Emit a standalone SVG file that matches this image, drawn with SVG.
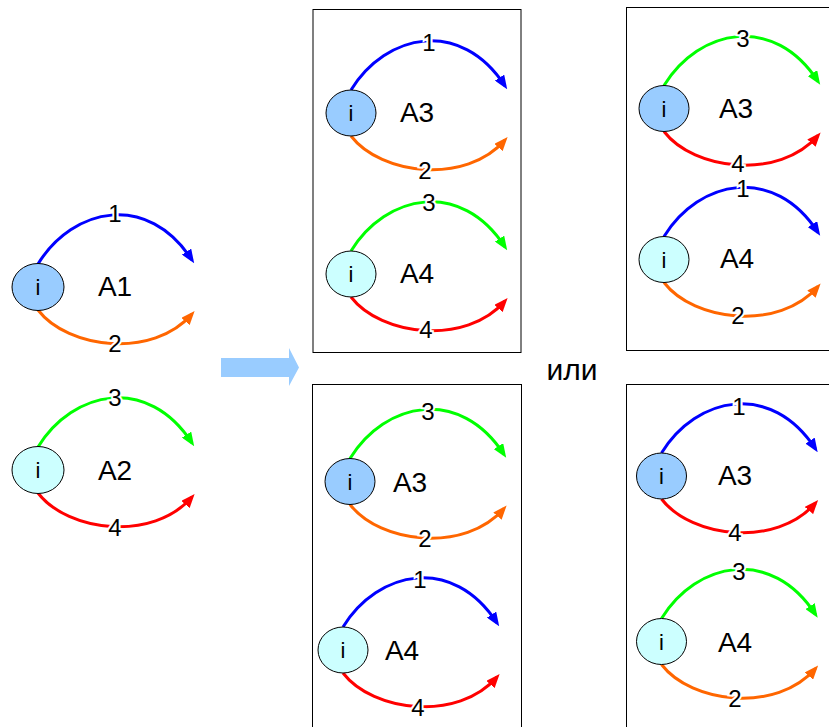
<svg xmlns="http://www.w3.org/2000/svg" width="829" height="727" viewBox="0 0 829 727">
<style>
.c1{fill:#99ccff;stroke:#000;stroke-width:1}
.c2{fill:#ccffff;stroke:#000;stroke-width:1}
.e{fill:none;stroke-width:3}
.b{stroke:#0000ff}.o{stroke:#ff6600}.g{stroke:#00ff00}.r{stroke:#ff0000}
.i{font-family:"Liberation Sans",Arial,sans-serif;font-size:22px;text-anchor:middle;fill:#000}
.n{font-family:"Liberation Sans",Arial,sans-serif;font-size:28px;text-anchor:middle;fill:#000}
.l{font-family:"Liberation Sans",Arial,sans-serif;font-size:24px;text-anchor:middle;fill:#000;stroke:#fff;stroke-width:4;paint-order:stroke}
.box{fill:#fff;stroke:#000;stroke-width:1}
</style>
<defs>
<marker id="mb" viewBox="0 0 14 11" refX="10" refY="5.5" markerWidth="14" markerHeight="11" markerUnits="userSpaceOnUse" orient="auto"><path d="M0,0 L14,5.5 L0,11 z" fill="#0000ff"/></marker>
<marker id="mo" viewBox="0 0 14 11" refX="10" refY="5.5" markerWidth="14" markerHeight="11" markerUnits="userSpaceOnUse" orient="auto"><path d="M0,0 L14,5.5 L0,11 z" fill="#ff6600"/></marker>
<marker id="mg" viewBox="0 0 14 11" refX="10" refY="5.5" markerWidth="14" markerHeight="11" markerUnits="userSpaceOnUse" orient="auto"><path d="M0,0 L14,5.5 L0,11 z" fill="#00ff00"/></marker>
<marker id="mr" viewBox="0 0 14 11" refX="10" refY="5.5" markerWidth="14" markerHeight="11" markerUnits="userSpaceOnUse" orient="auto"><path d="M0,0 L14,5.5 L0,11 z" fill="#ff0000"/></marker>
<path id="top" d="M0,-23 C35,-80 110,-95 154,-27"/>
<path id="bot" d="M0,23 C30,62 115,72 154,27"/>
</defs>
<rect width="829" height="727" fill="#fff"/>

<g id="boxes">
<rect class="box" x="313" y="9.5" width="208" height="343"/>
<rect class="box" x="626.5" y="7.5" width="215" height="343"/>
<rect class="box" x="312.5" y="384.5" width="209" height="360"/>
<rect class="box" x="626.5" y="384.5" width="215" height="360"/>
</g>

<g id="bigArrow"><path d="M221,358 L289,358 L289,348 L299,367.5 L289,386 L289,377 L221,377 z" fill="#99ccff"/></g>
<g id="ili"><text class="n" x="572" y="380" style="font-size:30px">или</text></g>

<g id="connectors">
<g transform="translate(38,287)"><use href="#top" class="e b" marker-end="url(#mb)"/><use href="#bot" class="e o" marker-end="url(#mo)"/><text class="l" x="77" y="-65">1</text><text class="l" x="77" y="65">2</text></g>
<g transform="translate(38,470)"><use href="#top" class="e g" marker-end="url(#mg)"/><use href="#bot" class="e r" marker-end="url(#mr)"/><text class="l" x="77" y="-64">3</text><text class="l" x="77" y="66">4</text></g>
<g transform="translate(351,113)"><use href="#top" class="e b" marker-end="url(#mb)"/><use href="#bot" class="e o" marker-end="url(#mo)"/><text class="l" x="78" y="-62">1</text><text class="l" x="74" y="66">2</text></g>
<g transform="translate(351,274)"><use href="#top" class="e g" marker-end="url(#mg)"/><use href="#bot" class="e r" marker-end="url(#mr)"/><text class="l" x="78" y="-63">3</text><text class="l" x="75" y="64">4</text></g>
<g transform="translate(664,108.5)"><use href="#top" class="e g" marker-end="url(#mg)"/><use href="#bot" class="e r" marker-end="url(#mr)"/><text class="l" x="79" y="-62">3</text><text class="l" x="74" y="63">4</text></g>
<g transform="translate(664,259.5)"><use href="#top" class="e b" marker-end="url(#mb)"/><use href="#bot" class="e o" marker-end="url(#mo)"/><text class="l" x="79" y="-63">1</text><text class="l" x="74" y="64">2</text></g>
<g transform="translate(350,481.5)"><use href="#top" class="e g" marker-end="url(#mg)"/><use href="#bot" class="e o" marker-end="url(#mo)"/><text class="l" x="78" y="-62">3</text><text class="l" x="75" y="65">2</text></g>
<g transform="translate(343,650)"><use href="#top" class="e b" marker-end="url(#mb)"/><use href="#bot" class="e r" marker-end="url(#mr)"/><text class="l" x="77" y="-62">1</text><text class="l" x="75" y="66">4</text></g>
<g transform="translate(661.5,476)"><use href="#top" class="e b" marker-end="url(#mb)"/><use href="#bot" class="e r" marker-end="url(#mr)"/><text class="l" x="77.5" y="-61">1</text><text class="l" x="73.5" y="65">4</text></g>
<g transform="translate(661.5,641.5)"><use href="#top" class="e g" marker-end="url(#mg)"/><use href="#bot" class="e o" marker-end="url(#mo)"/><text class="l" x="77.5" y="-62">3</text><text class="l" x="73.5" y="65">2</text></g>
</g>

<g id="A1" transform="translate(38,287)"><ellipse class="c1" rx="26" ry="23.5"/><text class="i" y="8">i</text><text class="n" x="77" y="9">A1</text></g>
<g id="A2" transform="translate(38,470)"><ellipse class="c2" rx="26" ry="23.5"/><text class="i" y="8">i</text><text class="n" x="77" y="10">A2</text></g>
<g id="b1A3" transform="translate(351,113)"><ellipse class="c1" rx="25" ry="23"/><text class="i" y="8">i</text><text class="n" x="66" y="9">A3</text></g>
<g id="b1A4" transform="translate(351,274)"><ellipse class="c2" rx="25" ry="23"/><text class="i" y="8">i</text><text class="n" x="66" y="9">A4</text></g>
<g id="b2A3" transform="translate(664,108.5)"><ellipse class="c1" rx="25" ry="23"/><text class="i" y="8">i</text><text class="n" x="72" y="9.5">A3</text></g>
<g id="b2A4" transform="translate(664,259.5)"><ellipse class="c2" rx="25" ry="23"/><text class="i" y="8">i</text><text class="n" x="73" y="8.5">A4</text></g>
<g id="b3A3" transform="translate(350,481.5)"><ellipse class="c1" rx="25" ry="23"/><text class="i" y="8">i</text><text class="n" x="60" y="10">A3</text></g>
<g id="b3A4" transform="translate(343,650)"><ellipse class="c2" rx="25" ry="23"/><text class="i" y="8">i</text><text class="n" x="59" y="10">A4</text></g>
<g id="b4A3" transform="translate(661.5,476)"><ellipse class="c1" rx="25" ry="23"/><text class="i" y="8">i</text><text class="n" x="73.5" y="9">A3</text></g>
<g id="b4A4" transform="translate(661.5,641.5)"><ellipse class="c2" rx="25" ry="23"/><text class="i" y="8">i</text><text class="n" x="73.5" y="10.5">A4</text></g>
</svg>
